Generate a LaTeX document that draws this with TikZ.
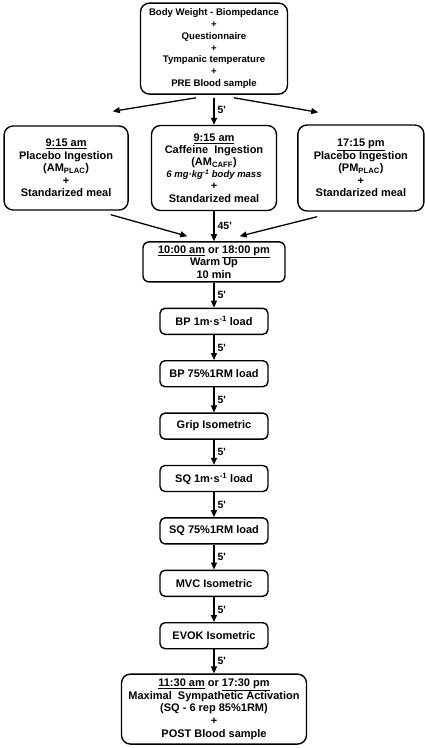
\documentclass[tikz,border=0pt]{standalone}
\usepackage{fontspec}
\setmainfont{Liberation Sans}
\usetikzlibrary{shapes,arrows.meta,positioning,calc}

\begin{document}
\begin{tikzpicture}[x=1pt, y=1pt, node distance=25pt,
    >={Triangle[length=7pt,width=6pt]},
    flow/.style={->, line width=1.3pt},
    bigbox/.style={rectangle, draw, line width=1.4pt, rounded corners=9pt, align=center, inner sep=2pt,
        font=\fontsize{11}{12.5}\selectfont\bfseries},
    stepbox/.style={rectangle, draw, line width=1.4pt, rounded corners=5pt, inner sep=2pt,
        minimum width=108pt, minimum height=26pt, font=\fontsize{11}{12.5}\selectfont\bfseries},
    mins/.style={right, inner sep=3pt, font=\fontsize{10.5}{12}\selectfont\bfseries}]

    \useasboundingbox (0,0) rectangle (425,-748);

    % Ingestion conditions
    \node[bigbox, minimum width=125pt, minimum height=85pt, font=\fontsize{11}{12.1}\selectfont\bfseries] (caff) at (214,-168)
        {\underline{9:15 am}\\Caffeine\ \ Ingestion\\(AM\textsubscript{CAFF})\\{\fontsize{9.5}{12.1}\selectfont\itshape 6 mg·kg\textsuperscript{-1} body mass}\\+\\Standarized meal};
    \node[bigbox, minimum width=124pt, minimum height=84pt, left=22pt of caff] (amplac)
        {\underline{9:15 am}\\Placebo Ingestion\\(AM\textsubscript{PLAC})\\+\\Standarized meal};
    \node[bigbox, minimum width=126pt, minimum height=86pt, right=20pt of caff] (pmplac)
        {\underline{17:15 pm}\\Placebo Ingestion\\(PM\textsubscript{PLAC})\\+\\Standarized meal};

    % Baseline measures
    \node[bigbox, minimum width=147pt, minimum height=91pt, font=\fontsize{9.6}{11.9}\selectfont\bfseries, above=30pt of caff] (pre)
        {Body Weight - Biompedance\\+\\Questionnaire\\+\\Tympanic temperature\\+\\PRE Blood sample};

    % Warm up
    \node[bigbox, rounded corners=6pt, minimum width=142pt, minimum height=40pt, font=\fontsize{11}{12.4}\selectfont\bfseries, below=30pt of caff] (warm)
        {\underline{10:00 am} or \underline{18:00 pm}\\Warm Up\\10 min};

    % Test battery
    \node[stepbox, below=of warm] (bp1) {BP 1m·s\textsuperscript{-1} load};
    \node[stepbox, below=of bp1] (bp75) {BP 75\%1RM load};
    \node[stepbox, below=of bp75] (grip) {Grip Isometric};
    \node[stepbox, below=of grip] (sq1) {SQ 1m·s\textsuperscript{-1} load};
    \node[stepbox, below=of sq1] (sq75) {SQ 75\%1RM load};
    \node[stepbox, below=of sq75] (mvc) {MVC Isometric};
    \node[stepbox, below=of mvc] (evok) {EVOK Isometric};

    % Final stress
    \node[bigbox, minimum width=185pt, minimum height=70pt, font=\fontsize{11}{12.7}\selectfont\bfseries, below=24pt of evok] (post)
        {\underline{11:30 am} or \underline{17:30 pm}\\Maximal\ \ Sympathetic Activation\\(SQ - 6 rep 85\%1RM)\\+\\POST Blood sample};

    % Arrows
    \draw[flow] ($(pre.south)+(-18,-3)$) -- ($(amplac.north east)+(-16,14)$);
    \draw[flow, shorten <=3pt] (pre) -- node[mins] {5\textquotesingle} (caff);
    \draw[flow] ($(pre.south)+(20,-3)$) -- ($(pmplac.north west)+(21,12)$);
    \draw[flow] ($(amplac.south east)+(-18,-4)$) -- ($(warm.north west)+(45,5)$);
    \draw[flow] (caff) -- node[mins] {45\textquotesingle} (warm);
    \draw[flow] ($(pmplac.south west)+(20,-5)$) -- ($(warm.north east)+(-46,5)$);
    \draw[flow] (warm) -- node[mins] {5\textquotesingle} (bp1);
    \draw[flow] (bp1) -- node[mins] {5\textquotesingle} (bp75);
    \draw[flow] (bp75) -- node[mins] {5\textquotesingle} (grip);
    \draw[flow] (grip) -- node[mins] {5\textquotesingle} (sq1);
    \draw[flow] (sq1) -- node[mins] {5\textquotesingle} (sq75);
    \draw[flow] (sq75) -- node[mins] {5\textquotesingle} (mvc);
    \draw[flow] (mvc) -- node[mins] {5\textquotesingle} (evok);
    \draw[flow] (evok) -- node[mins] {5\textquotesingle} (post);
\end{tikzpicture}
\end{document}
